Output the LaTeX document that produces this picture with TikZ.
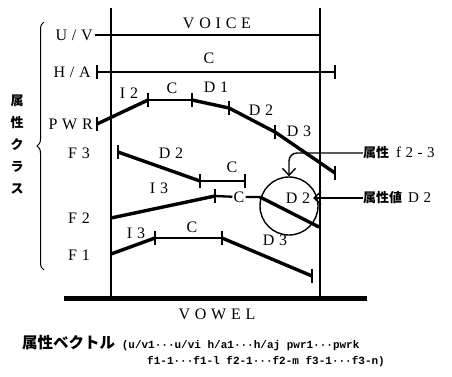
\documentclass[tikz,border=0pt]{standalone}
\usepackage{fontspec}
\setmainfont{Liberation Serif}
\newfontfamily\spaced[LetterSpace=30]{Liberation Serif}
\newfontfamily\cjk{Noto Sans CJK JP}
\newfontfamily\vecfont{Liberation Mono}
\usetikzlibrary{arrows.meta,decorations.pathreplacing}

\begin{document}
\begin{tikzpicture}[x=1pt, y=-1pt,
    lbl/.style={font=\fontsize{16}{18}\selectfont\spaced, inner sep=0pt},
    jlbl/.style={font=\fontsize{13}{15}\selectfont, inner sep=0pt, anchor=west},
    vec/.style={anchor=west, inner sep=0pt, font=\fontsize{11}{13}\selectfont\vecfont\bfseries},
    seg/.style={line width=3.4pt},
    flat/.style={line width=2.3pt},
    rule/.style={line width=1.2pt},
    bar/.style={line width=1.2pt},
    pointer/.style={line width=1.4pt, -{Straight Barb[length=7pt,width=13pt,line width=1.4pt]}}]

    \definecolor{inkColour}{HTML}{000000}
    \def\barHalf{7}

    \useasboundingbox (0,0) rectangle (452,376);

    % Draw frame
    \coordinate (frameTL) at (111,8);
    \coordinate (frameBL) at (111,298);
    \coordinate (frameTR) at (320,8);
    \coordinate (frameBR) at (320,298);
    \draw[rule] (frameTL) -- (frameBL);
    \draw[rule] (frameTR) -- (frameBR);
    \coordinate (baseL) at (64,298);
    \coordinate (baseR) at (367,298);
    \draw[line width=5pt] (baseL) -- (baseR);
    \node[lbl] (voice) at (217,23) {VOICE};
    \node[lbl] (vowel) at (217,314) {VOWEL};

    % Row labels
    \node[lbl, anchor=east] (uvLabel) at (93,35) {U/V};
    \node[lbl, anchor=east] (haLabel) at (91,72) {H/A};
    \node[lbl, anchor=east] (pwrLabel) at (93,124) {PWR};
    \node[lbl, anchor=east] (fthreeLabel) at (90,153) {F3};
    \node[lbl, anchor=east] (ftwoLabel) at (90,218) {F2};
    \node[lbl, anchor=east] (foneLabel) at (90,255) {F1};

    % Attribute class brace
    \draw[decorate, decoration={brace, amplitude=7pt}, line width=1pt] (44,270) -- (44,22);
    \node[font=\fontsize{13}{22}\selectfont\cjk\bfseries, align=center, inner sep=0pt] (classLabel) at (17,145) {属\\性\\ク\\ラ\\ス};

    % U/V and H/A
    \coordinate (uv0) at (95,35);
    \draw[line width=2.6pt] (uv0) -- (uv0 -| frameTR);
    \coordinate (ha0) at (97,72);
    \coordinate (ha1) at (335,72);
    \draw[flat] (ha0) -- (ha1);
    \node[lbl] (haC) at (209,58) {C};

    % PWR
    \coordinate (p0) at (97,124);
    \coordinate (p1) at (148,100);
    \coordinate (p2) at (192,100);
    \coordinate (p3) at (229,108);
    \coordinate (p4) at (275,132);
    \coordinate (p5) at (335,173);
    \draw[seg] (p0) -- (p1);
    \draw[flat] (p1) -- (p2);
    \draw[seg] (p2) -- (p3) -- (p4) -- (p5);
    \node[lbl] (pwrI) at (129,93) {I2};
    \node[lbl] (pwrC) at (172,88) {C};
    \node[lbl] (pwrDa) at (216,87) {D1};
    \node[lbl] (pwrDb) at (261,110) {D2};
    \node[lbl] (pwrDc) at (299,131) {D3};

    % F3
    \coordinate (q0) at (118,152);
    \coordinate (q1) at (200,181);
    \coordinate (q2) at (245,181);
    \draw[seg] (q0) -- (q1);
    \draw[flat] (q1) -- (q2);
    \node[lbl] (fthreeD) at (171,153) {D2};
    \node[lbl] (fthreeC) at (232,167) {C};

    % F2
    \coordinate (r0) at (111,218);
    \coordinate (r1) at (215,196);
    \coordinate (r2) at (260,197);
    \coordinate (r3) at (319,227);
    \node[lbl, inner sep=1pt] (ftwoC) at (239,197) {C};
    \draw[seg] (r0) -- (r1);
    \draw[flat] (r1) -- (ftwoC) -- (r2);
    \draw[seg] (r2) -- (r3);
    \node[lbl] (ftwoI) at (159,188) {I3};

    % F1
    \coordinate (s0) at (111,254);
    \coordinate (s1) at (155,238);
    \coordinate (s2) at (222,238);
    \coordinate (s3) at (312,276);
    \draw[seg] (s0) -- (s1);
    \draw[flat] (s1) -- (s2);
    \draw[seg] (s2) -- (s3);
    \node[lbl] (foneI) at (136,233) {I3};
    \node[lbl] (foneC) at (192,227) {C};
    \node[lbl] (foneD) at (275,240) {D3};

    % Tick bars
    \foreach \p in {ha0,ha1,p0,p1,p2,p3,p4,p5,q0,q1,q2,r1,s1,s2,s3}
        \draw[bar] ([yshift=\barHalf pt]\p) -- ([yshift=-\barHalf pt]\p);

    % Highlighted value
    \node[circle, draw=inkColour, line width=1.4pt, minimum size=58pt, inner sep=0pt] (circ) at (289,206) {};
    \node[lbl] (circD) at (298,198) {D2};
    \coordinate (valueTip) at (313,198);

    % Callouts
    \node[jlbl] (attr) at (363,153) {{\cjk\bfseries 属性}\hspace{7pt}{\spaced\fontsize{15}{16}\selectfont f2-3}};
    \node[jlbl] (attrValue) at (363,198) {{\cjk\bfseries 属性値}\hspace{6pt}{\spaced\fontsize{15}{16}\selectfont D2}};
    \draw[pointer, rounded corners=8pt] (attr.west) -| (circ.north);
    \draw[pointer] (attrValue.west) -- (valueTip);

    % Attribute vector
    \node[vec] (vecA) at (22,343)
        {{\cjk\fontsize{15.5}{16}\selectfont 属性ベクトル}~(u/v1···u/vi h/a1···h/aj pwr1···pwrk};
    \node[vec] (vecB) at (147,362)
        {f1-1···f1-l f2-1···f2-m f3-1···f3-n)};

\end{tikzpicture}
\end{document}
